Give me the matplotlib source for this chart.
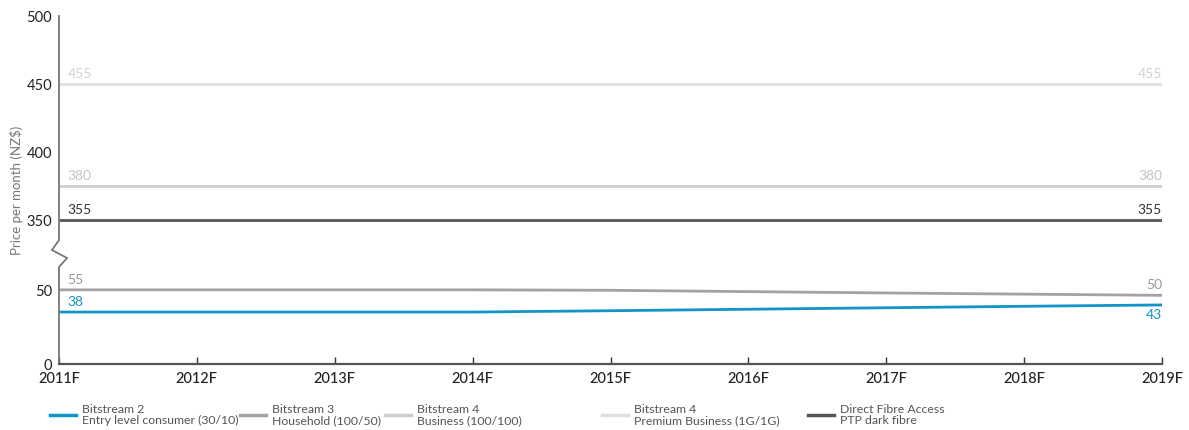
import numpy as np
import matplotlib
matplotlib.use("Agg")
import matplotlib.pyplot as plt
from matplotlib.lines import Line2D

plt.rcParams['font.family'] = ['Lato', 'DejaVu Sans']

years = ['2011F', '2012F', '2013F', '2014F', '2015F', '2016F', '2017F', '2018F', '2019F']

# plotted positions
bitstream2 = [35.1, 35.1, 35.1, 35.1, 36.0, 37.0, 38.0, 39.0, 39.9]
bitstream3 = [50.7, 50.7, 50.7, 50.7, 49.8, 48.9, 48.0, 47.2, 46.4]
bitstream4_business = [375] * 9
bitstream4_premium = [450] * 9
direct_fibre = [350] * 9

# end labels as printed on the chart
start_labels = {'b2': '38', 'b3': '55', 'b4b': '380', 'b4p': '455', 'dfa': '355'}
end_labels = {'b2': '43', 'b3': '50', 'b4b': '380', 'b4p': '455', 'dfa': '355'}

series_names = ['Bitstream 2\nEntry level consumer (30/10)',
                'Bitstream 3\nHousehold (100/50)',
                'Bitstream 4\nBusiness (100/100)',
                'Bitstream 4\nPremium Business (1G/1G)',
                'Direct Fibre Access\nPTP dark fibre']

c_b2 = '#1195c8'
c_b3 = '#a3a3a3'
c_b4b = '#cdcdcd'
c_b4p = '#dfdfdf'
c_dfa = '#555555'

# broken axis: 0-50 and 350-500 stretched, 50-350 squeezed
brk_y = [0, 50, 350, 500]
brk_u = [0, 74, 144, 348]


def fwd(y):
    return np.interp(y, brk_y, brk_u)


def inv(u):
    return np.interp(u, brk_u, brk_y)


fig = plt.figure(figsize=(11.89, 4.30), dpi=100)
ax = fig.add_axes([59 / 1189, 1 - 364 / 430, 1103 / 1189, 348 / 430])
ax.set_yscale('function', functions=(fwd, inv))

x = np.arange(len(years))
ax.plot(x, bitstream4_premium, color=c_b4p, lw=2.0, solid_capstyle='butt')
ax.plot(x, bitstream4_business, color=c_b4b, lw=2.0, solid_capstyle='butt')
ax.plot(x, direct_fibre, color=c_dfa, lw=2.0, solid_capstyle='butt')
ax.plot(x, bitstream3, color=c_b3, lw=2.0, solid_capstyle='butt')
ax.plot(x, bitstream2, color=c_b2, lw=2.0, solid_capstyle='butt')

ax.set_xlim(0, len(years) - 1)
ax.set_ylim(0, 500)
ax.set_yticks([0, 50, 350, 400, 450, 500])
ax.set_yticklabels(['0', '50', '350', '400', '450', '500'])
ax.set_xticks(x)
ax.set_xticklabels(years)
ax.tick_params(axis='y', length=0, pad=5, labelsize=10.5, labelcolor='#222222')
ax.tick_params(axis='x', direction='in', length=5, width=1, color='#333333',
               pad=6, labelsize=10.5, labelcolor='#222222')
for lab in ax.get_xticklabels():
    lab.set_fontweight('medium')

for s in ['top', 'right', 'left']:
    ax.spines[s].set_visible(False)
ax.spines['bottom'].set_color('#555555')
ax.spines['bottom'].set_linewidth(1.6)

# left spine with zigzag break
px = 1 / 1103
pu = 1 / 348
spine_x = [0, 0, 8 * px, -7 * px, 0, 0]
spine_u = [0, 97 * pu, 106 * pu, 114 * pu, 124 * pu, 1]
ax.plot(spine_x, spine_u, transform=ax.transAxes, color='#777777', lw=1.3,
        clip_on=False, solid_joinstyle='miter')

ax.set_ylabel('Price per month (NZ$)', fontsize=9.5, color='#777777')
ax.yaxis.set_label_coords(-36 / 1103, 0.5)

# value labels
series = {'b2': (bitstream2, c_b2), 'b3': (bitstream3, '#9a9a9a'),
          'b4b': (bitstream4_business, '#c4c4c4'), 'b4p': (bitstream4_premium, '#d2d2d2'),
          'dfa': (direct_fibre, '#333333')}
for key, (vals, col) in series.items():
    ax.annotate(start_labels[key], (0, vals[0]), xytext=(6, 3), textcoords='offset points',
                ha='left', va='bottom', fontsize=10, color=col)
    if key == 'b2':
        ax.annotate(end_labels[key], (x[-1], vals[-1]), xytext=(0, -3), textcoords='offset points',
                    ha='right', va='top', fontsize=10, color=col)
    else:
        ax.annotate(end_labels[key], (x[-1], vals[-1]), xytext=(0, 3), textcoords='offset points',
                    ha='right', va='bottom', fontsize=10, color=col)

# legend entries, one per series, placed like the reference
colors = [c_b2, c_b3, c_b4b, c_b4p, c_dfa]
leg_x = [50, 240, 385, 602, 808]
for name, col, lx in zip(series_names, colors, leg_x):
    h = Line2D([], [], color=col, lw=2.5)
    leg = fig.legend([h], [name], loc='center left', bbox_to_anchor=(lx / 1189, 1 - 415 / 430),
                     frameon=False, fontsize=8.8, handlelength=2.1, handletextpad=0.55,
                     borderaxespad=0, borderpad=0)
    for t in leg.get_texts():
        t.set_color('#555555')
        t.set_linespacing(1.05)

fig.savefig('out.png', dpi=100)
